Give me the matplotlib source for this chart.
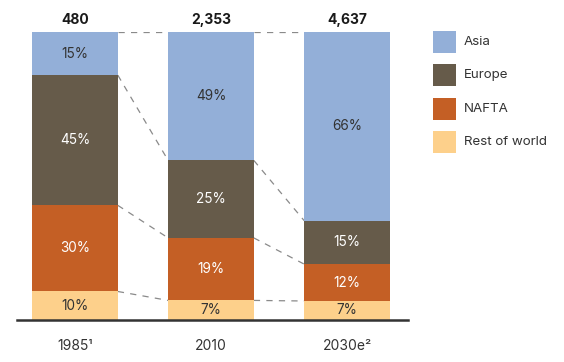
import matplotlib
matplotlib.use("Agg")
import matplotlib.pyplot as plt
from matplotlib.patches import Rectangle
import numpy as np

plt.rcParams['font.family'] = ['Inter', 'DejaVu Sans']

# Data
years = ["1985\u00b9", "2010", "2030e\u00b2"]
totals = ["480", "2,353", "4,637"]
regions = ["Asia", "Europe", "NAFTA", "Rest of world"]
# segment heights (share of total, %), as drawn
asia = [15.0, 44.6, 65.5]
europe = [45.2, 26.9, 15.1]
nafta = [29.9, 21.7, 12.8]
rest = [9.9, 6.8, 6.6]
# segment labels
asia_lbl = ["15%", "49%", "66%"]
europe_lbl = ["45%", "25%", "15%"]
nafta_lbl = ["30%", "19%", "12%"]
rest_lbl = ["10%", "7%", "7%"]

colors = {"Asia": "#93AFD8", "Europe": "#665B4A", "NAFTA": "#C45F25", "Rest of world": "#FDD08B"}
text_colors = {"Asia": "#333333", "Europe": "white", "NAFTA": "white", "Rest of world": "#333333"}

W, H = 564, 362
fig = plt.figure(figsize=(W / 100, H / 100), dpi=100)
ax = fig.add_axes([17 / W, 1 - 320 / H, (408 - 17) / W, (320 - 32) / H])

x = np.arange(len(years))
width = 0.63
stack_order = [("Rest of world", rest, rest_lbl), ("NAFTA", nafta, nafta_lbl),
               ("Europe", europe, europe_lbl), ("Asia", asia, asia_lbl)]
bottom = np.zeros(len(years))
bounds = []
for name, vals, lbls in stack_order:
    vals = np.array(vals)
    ax.bar(x, vals, width, bottom=bottom, color=colors[name], label=name, zorder=2)
    for xi, b, v, l in zip(x, bottom, vals, lbls):
        ax.text(xi, b + v / 2, l, ha='center', va='center', fontsize=9.8,
                color=text_colors[name], zorder=3)
    bottom = bottom + vals
    bounds.append(bottom.copy())

# dashed connectors
for bnd in bounds:
    for i in range(len(x) - 1):
        ax.plot([x[i] + width / 2, x[i + 1] - width / 2], [bnd[i], bnd[i + 1]],
                linestyle=(0, (5, 5)), color='#8a8a8a', linewidth=0.9, zorder=1)

# totals
for xi, t, top in zip(x, totals, bottom):
    ax.annotate(t, (xi, top), xytext=(0, 6), textcoords='offset points',
                ha='center', va='baseline', fontsize=10, fontweight='bold', color='#1a1a1a')

ax.set_xlim((17 - 75) / 136, (408 - 75) / 136)
ax.set_ylim(0, 100)
ax.set_xticks(x)
ax.set_xticklabels(years, fontsize=10, color='#333333')
ax.tick_params(axis='x', length=0, pad=13.5)
ax.set_yticks([])
for s in ['top', 'right', 'left']:
    ax.spines[s].set_visible(False)
ax.spines['bottom'].set_color('#333333')
ax.spines['bottom'].set_linewidth(1.8)
ax.spines['bottom'].set_zorder(4)
ax.patch.set_alpha(0)

# legend (manual)
leg_x, leg_y0, leg_step = 433, 31, 33.3
sq_w, sq_h = 23, 22
for k, r in enumerate(regions):
    top = leg_y0 + k * leg_step
    fig.add_artist(Rectangle((leg_x / W, 1 - (top + sq_h) / H), sq_w / W, sq_h / H,
                             transform=fig.transFigure, facecolor=colors[r], edgecolor='none'))
    fig.text(464 / W, 1 - (top + sq_h / 2) / H, r, ha='left', va='center',
             fontsize=9.6, color='#333333')

fig.savefig("out.png", dpi=100)
